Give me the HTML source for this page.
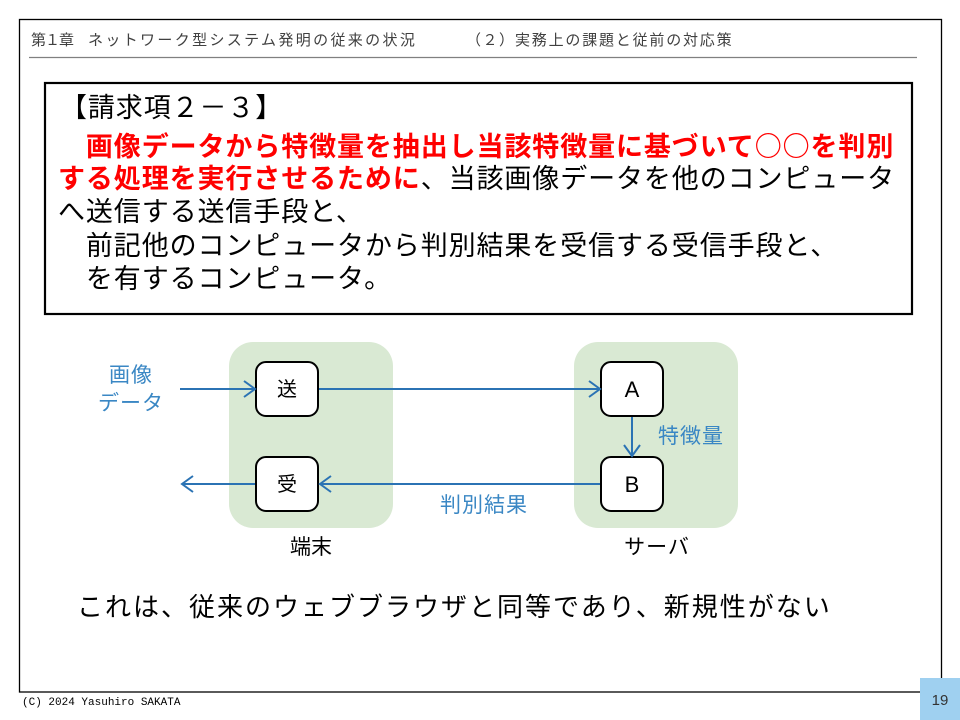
<!DOCTYPE html>
<html><head><meta charset="utf-8">
<style>
html,body{margin:0;padding:0;background:#fff;}
body{width:960px;height:720px;position:relative;overflow:hidden;font-family:"Liberation Sans","Noto Sans CJK JP",sans-serif;}
.abs{position:absolute;white-space:nowrap;}
.hd{font-size:15px;line-height:15px;color:#404040;font-family:"Liberation Sans","Noto Sans CJK JP",sans-serif;}
.cl{font-size:27px;line-height:27px;letter-spacing:0.9px;color:#000;font-family:"Liberation Sans","Noto Sans CJK JP",sans-serif;}
.red{color:#ff0000;font-weight:bold;}
.cjk{font-family:"Noto Sans CJK JP",sans-serif;}
</style></head><body>
<svg class="abs" style="left:0;top:0" width="960" height="720" viewBox="0 0 960 720">
  <rect x="19.5" y="19.5" width="922" height="672.5" fill="none" stroke="#000" stroke-width="1.3"/>
  <line x1="29" y1="57.5" x2="917" y2="57.5" stroke="#808080" stroke-width="1.3"/>
  <rect x="45" y="83" width="867" height="231" fill="#fff" stroke="#000" stroke-width="2.2"/>
  <!-- green groups -->
  <rect x="229" y="342" width="164" height="186" rx="24" fill="#d9e9d3"/>
  <rect x="574" y="342" width="164" height="186" rx="24" fill="#d9e9d3"/>
  <!-- boxes -->
  <rect x="256" y="362" width="62" height="54" rx="10" fill="#fff" stroke="#000" stroke-width="2"/>
  <rect x="256" y="457" width="62" height="54" rx="10" fill="#fff" stroke="#000" stroke-width="2"/>
  <rect x="601" y="362" width="62" height="54" rx="10" fill="#fff" stroke="#000" stroke-width="2"/>
  <rect x="601" y="457" width="62" height="54" rx="10" fill="#fff" stroke="#000" stroke-width="2"/>
  <!-- arrows -->
  <g stroke="#2b73b4" stroke-width="2" fill="none">
    <line x1="180" y1="389" x2="255" y2="389"/>
    <polyline points="244,381 255,389 244,397"/>
    <line x1="319" y1="389" x2="600" y2="389"/>
    <polyline points="589,381 600,389 589,397"/>
    <line x1="632" y1="417" x2="632" y2="456"/>
    <polyline points="624,445 632,456 640,445"/>
    <line x1="600" y1="484" x2="320" y2="484"/>
    <polyline points="331,476 320,484 331,492"/>
    <line x1="255" y1="484" x2="182" y2="484"/>
    <polyline points="193,476 182,484 193,492"/>
  </g>
  <!-- box labels -->
  <g font-family="Liberation Sans, Noto Sans CJK JP, sans-serif" fill="#000" text-anchor="middle">
    <text x="287" y="396" font-size="20">送</text>
    <text x="287" y="491" font-size="20">受</text>
    <text x="632" y="397" font-size="22">A</text>
    <text x="632" y="492" font-size="22">B</text>
    <text x="311" y="554" font-size="21">端末</text>
    <text x="657" y="554" font-size="21" letter-spacing="1">サーバ</text>
  </g>
  <g font-family="Liberation Sans, Noto Sans CJK JP, sans-serif" fill="#3a87c4" text-anchor="middle" font-size="21">
    <text x="131" y="382" letter-spacing="1">画像</text>
    <text x="131" y="410" letter-spacing="1">データ</text>
    <text x="691" y="443" letter-spacing="1">特徴量</text>
    <text x="484" y="512" letter-spacing="1">判別結果</text>
  </g>
  <!-- page number -->
  <rect x="920" y="678" width="40" height="42" fill="#9fd0f0"/>
  <text x="940" y="705" font-size="15" text-anchor="middle" fill="#333" font-family="Liberation Sans, sans-serif">19</text>
</svg>

<div class="abs hd" style="left:31px;top:33px;letter-spacing:-1px;">第１章</div>
<div class="abs hd" style="left:88px;top:33px;letter-spacing:2.35px;">ネットワーク型システム発明の従来の状況</div>
<div class="abs hd" style="left:466px;top:33px;letter-spacing:1.5px;">（２）</div>
<div class="abs hd" style="left:515px;top:33px;letter-spacing:1.8px;">実務上の課題と従前の対応策</div>

<div class="abs cl" style="left:60px;top:95px;">【請求項２－３】</div>
<div class="abs cl" style="left:58px;top:131px;">　<span class="red">画像データから特徴量を抽出し当該特徴量に基づいて<span class="cjk">○○</span>を判別</span></div>
<div class="abs cl" style="left:58px;top:166px;"><span class="red">する処理を実行させるために</span>、当該画像データを他のコンピュータ</div>
<div class="abs cl" style="left:58px;top:199px;">へ送信する送信手段と、</div>
<div class="abs cl" style="left:58px;top:233px;">　前記他のコンピュータから判別結果を受信する受信手段と、</div>
<div class="abs cl" style="left:58px;top:266px;">　を有するコンピュータ。</div>

<div class="abs" style="left:77px;top:594px;font-size:26px;line-height:26px;letter-spacing:2px;color:#000;font-family:'Liberation Sans','Noto Sans CJK JP',sans-serif;">これは、従来のウェブブラウザと同等であり、新規性がない</div>

<div class="abs" style="left:22px;top:697px;font-size:11px;line-height:12px;color:#000;font-family:'Liberation Mono',monospace;">(C) 2024 Yasuhiro SAKATA</div>
</body></html>
